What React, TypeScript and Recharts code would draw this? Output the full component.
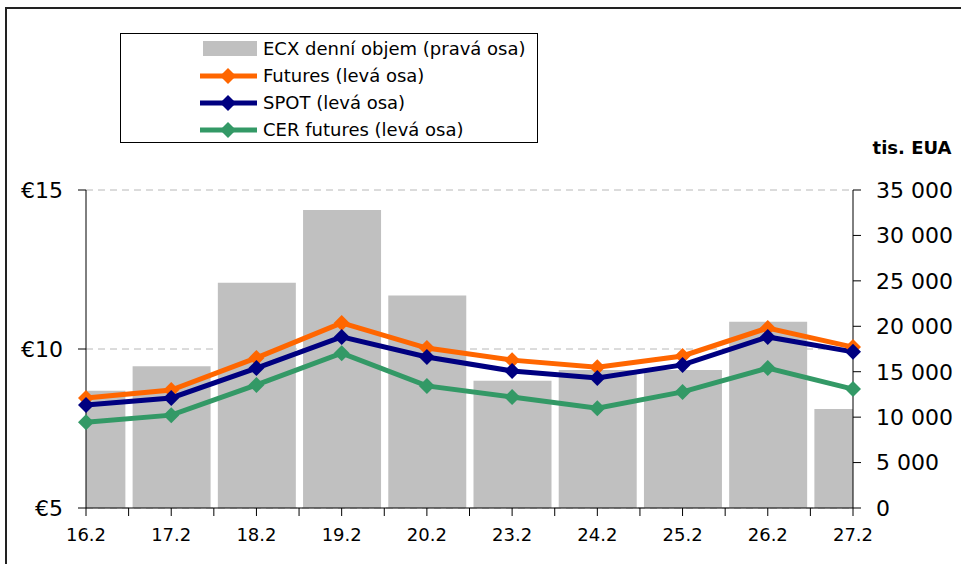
import { ComposedChart, Bar, Line, XAxis, YAxis, CartesianGrid, Legend } from 'recharts';

const dates = ['16.2', '17.2', '18.2', '19.2', '20.2', '23.2', '24.2', '25.2', '26.2', '27.2'];
const volume = [12900, 15600, 24800, 32800, 23400, 14000, 15200, 15200, 20500, 10900];
const futures = [8.46, 8.71, 9.72, 10.82, 10.03, 9.65, 9.43, 9.78, 10.66, 10.06];
const spot = [8.24, 8.46, 9.4, 10.38, 9.75, 9.31, 9.09, 9.5, 10.38, 9.91];
const cer = [7.7, 7.92, 8.87, 9.87, 8.84, 8.49, 8.14, 8.65, 9.4, 8.74];
const leftTicks = [5, 10, 15];
const rightTicks = [0, 5000, 10000, 15000, 20000, 25000, 30000, 35000];
const legendOrder = ['volume', 'futures', 'spot', 'cer'];

const data = dates.map((d, i) => ({
  idx: i,
  date: d,
  volume: volume[i],
  futures: futures[i],
  spot: spot[i],
  cer: cer[i],
}));

const FONT = '"DejaVu Sans", Tahoma, Verdana, sans-serif';
const TICK = 8;
const TICK_GAP = 12;
const HALF = (853 - 86) / 9 / 2;

const fmtThousands = (v: number) => String(v).replace(/\B(?=(\d{3})+(?!\d))/g, ' ');

const diamond = (color: string) => (props: any) => {
  const { cx, cy, index } = props;
  if (cx == null || cy == null) return <g key={index} />;
  const r = 8;
  return (
    <polygon
      key={index}
      points={`${cx},${cy - r} ${cx + r},${cy} ${cx},${cy + r} ${cx - r},${cy}`}
      fill={color}
    />
  );
};

const XTick = (props: any) => {
  const { x, y, payload, index } = props;
  const top = y - TICK_GAP - TICK;
  return (
    <g>
      <line x1={x} x2={x} y1={top} y2={top + TICK} stroke="#000" />
      {index > 0 && <line x1={x - HALF} x2={x - HALF} y1={top} y2={top + TICK} stroke="#000" />}
      <text x={x} y={y} dy="0.71em" textAnchor="middle" fontSize={18} fill="#000" fontFamily={FONT}>
        {dates[payload.value]}
      </text>
    </g>
  );
};

const LegendBox = ({ payload }: any) => {
  const items = [...(payload || [])].sort(
    (a: any, b: any) => legendOrder.indexOf(a.dataKey) - legendOrder.indexOf(b.dataKey)
  );
  return (
    <div
      style={{
        border: '1px solid #000',
        width: 416,
        height: 107,
        boxSizing: 'content-box',
        fontFamily: FONT,
        fontSize: 18,
        color: '#000',
        paddingTop: 1,
      }}
    >
      {items.map((entry: any) => (
        <div key={entry.value} style={{ display: 'flex', alignItems: 'center', height: 27 }}>
          <svg width={60} height={20} style={{ marginLeft: 79, marginRight: 3 }}>
            {entry.type === 'rect' ? (
              <rect x={3} y={2} width={54} height={15} fill={entry.color} />
            ) : (
              <g>
                <line x1={0} x2={57} y1={10} y2={10} stroke={entry.color} strokeWidth={5} />
                <polygon points="28,2 36,10 28,18 20,10" fill={entry.color} />
              </g>
            )}
          </svg>
          <span>{entry.value}</span>
        </div>
      ))}
    </div>
  );
};

export default function App() {
  return (
    <div style={{ position: 'fixed', left: 0, top: 0, width: 961, height: 564, background: '#fff', fontFamily: FONT, overflow: 'hidden' }}>
      <ComposedChart
        width={961}
        height={564}
        data={data}
        margin={{ top: 190, right: 0, bottom: 0, left: 0 }}
        style={{ position: 'absolute', left: 0, top: 0 }}
      >
        <CartesianGrid yAxisId="left" vertical={false} stroke="#b8b8b8" strokeDasharray="7 5" />
        <XAxis
          xAxisId="bar"
          dataKey="idx"
          type="number"
          domain={[0, 9]}
          ticks={[0, 1, 2, 3, 4, 5, 6, 7, 8, 9]}
          allowDataOverflow
          height={56}
          stroke="#000"
          tickLine={false}
          tickSize={TICK}
          tickMargin={TICK_GAP}
          tick={<XTick />}
          interval={0}
        />
        <XAxis xAxisId="line" dataKey="idx" type="number" domain={[0, 9]} hide />
        <YAxis
          yAxisId="left"
          orientation="left"
          width={86}
          domain={[5, 15]}
          ticks={leftTicks}
          tickFormatter={(v: number) => `€${v}`}
          stroke="#000"
          tickSize={TICK}
          tickMargin={15}
          tick={{ fill: '#000', fontSize: 22, fontFamily: FONT }}
        />
        <YAxis
          yAxisId="right"
          orientation="right"
          width={108}
          domain={[0, 35000]}
          ticks={rightTicks}
          tickFormatter={fmtThousands}
          stroke="#000"
          tickSize={TICK}
          tickMargin={15}
          tick={{ fill: '#000', fontSize: 22, fontFamily: FONT, textAnchor: 'start' }}
          label={{ value: 'tis. EUA', position: 'top', offset: 36, fontSize: 18, fontWeight: 'bold', fill: '#000', fontFamily: FONT, dx: 5 }}
        />
        <Legend
          layout="vertical"
          align="center"
          verticalAlign="middle"
          content={<LegendBox />}
          wrapperStyle={{ left: 120, top: 33, width: 'auto' }}
        />
        <Bar
          xAxisId="bar"
          yAxisId="right"
          dataKey="volume"
          name="ECX denní objem (pravá osa)"
          fill="#c0c0c0"
          barSize={78}
          legendType="rect"
          isAnimationActive={false}
        />
        <Line
          xAxisId="line"
          yAxisId="left"
          dataKey="futures"
          name="Futures (levá osa)"
          stroke="#ff6600"
          strokeWidth={5}
          dot={diamond('#ff6600')}
          activeDot={false}
          legendType="diamond"
          isAnimationActive={false}
        />
        <Line
          xAxisId="line"
          yAxisId="left"
          dataKey="spot"
          name="SPOT (levá osa)"
          stroke="#000080"
          strokeWidth={5}
          dot={diamond('#000080')}
          activeDot={false}
          legendType="diamond"
          isAnimationActive={false}
        />
        <Line
          xAxisId="line"
          yAxisId="left"
          dataKey="cer"
          name="CER futures (levá osa)"
          stroke="#339966"
          strokeWidth={5}
          dot={diamond('#339966')}
          activeDot={false}
          legendType="diamond"
          isAnimationActive={false}
        />
      </ComposedChart>
      <div style={{ position: 'absolute', left: 5, top: 7, width: 956, height: 2, background: '#222', zIndex: 5 }} />
      <div style={{ position: 'absolute', left: 5, top: 7, width: 2, height: 557, background: '#222', zIndex: 5 }} />
    </div>
  );
}
